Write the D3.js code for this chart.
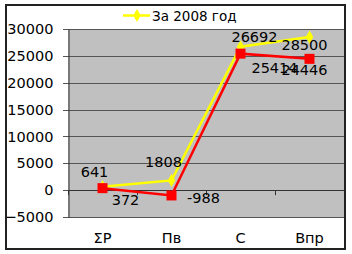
<!DOCTYPE html>
<html lang="ru">
<head>
<meta charset="utf-8">
<title>За 2008 год</title>
<script src="https://d3js.org/d3.v7.min.js"></script>
<style>
  body { margin: 0; background: #fff; }
  text { font-family: "DejaVu Sans", Verdana, sans-serif; font-size: 14.5px; fill: #000; }
</style>
</head>
<body>
<script>
// data
var categories = ["ΣР", "Пв", "С", "Впр"];
var yellowVals = [641, 1808, 26692, 28500];
var redVals = [372, -988, 25414, 24446];
var yTicks = [-5000, 0, 5000, 10000, 15000, 20000, 25000, 30000];
var legendLabel = "За 2008 год";

// label offsets (px) from each point, as placed in the original
var yellowLabelOff = [[-8, -10], [-8, -13], [14, -5], [-5, 13]];
var redLabelOff = [[23, 17], [32, 8], [34, 19], [-5, 16]];

var w = 352, h = 254;
var plotL = 68, plotR = 344, plotT = 29, plotB = 217;

var svg = d3.select("body").append("svg").attr("width", w).attr("height", h);

svg.append("rect").attr("x", 0).attr("y", 0).attr("width", w).attr("height", h).attr("fill", "white");

var x = d3.scaleBand().domain(categories).range([plotL, plotR]);
var y = d3.scaleLinear().domain([-5000, 30000]).range([plotB, plotT]);
var cx = function(d, i) { return x(categories[i]) + x.bandwidth() / 2; };

// plot area
svg.append("rect").attr("x", plotL).attr("y", plotT).attr("width", plotR - plotL).attr("height", plotB - plotT)
  .attr("fill", "#c0c0c0");

// gridlines
svg.append("g").selectAll("line").data(yTicks).enter().append("line")
  .attr("x1", plotL - 5).attr("x2", plotR)
  .attr("y1", function(d) { return Math.round(y(d)) + 0.5; }).attr("y2", function(d) { return Math.round(y(d)) + 0.5; })
  .attr("stroke", "#555").attr("stroke-width", 1);

// y axis
var yAxis = d3.axisLeft(y).tickValues(yTicks).tickSize(0).tickPadding(15).tickFormat(d3.format("d"));
var gy = svg.append("g").attr("transform", "translate(" + (plotL + 0.5) + ",0)").call(yAxis);
gy.select(".domain").attr("stroke", "#333");
gy.selectAll("text").style("font-family", "DejaVu Sans, Verdana, sans-serif").style("font-size", "14.5px").attr("fill", "#000");

// category axis at zero
var gx = svg.append("g");
gx.append("line").attr("x1", plotL).attr("x2", plotR).attr("y1", Math.round(y(0)) + 0.5).attr("y2", Math.round(y(0)) + 0.5)
  .attr("stroke", "#333");
gx.selectAll("line.tk").data(d3.range(categories.length + 1)).enter().append("line").attr("class", "tk")
  .attr("x1", function(d) { return plotL + d * x.bandwidth() + 0.5; })
  .attr("x2", function(d) { return plotL + d * x.bandwidth() + 0.5; })
  .attr("y1", y(0)).attr("y2", y(0) + 5).attr("stroke", "#333");
svg.append("g").selectAll("text").data(categories).enter().append("text")
  .attr("x", function(d) { return x(d) + x.bandwidth() / 2; })
  .attr("y", 243).attr("text-anchor", "middle").text(function(d) { return d; });

// series
var line = d3.line().x(cx).y(function(d) { return y(d); });

svg.append("path").datum(yellowVals).attr("d", line).attr("fill", "none")
  .attr("stroke", "#ffff00").attr("stroke-width", 2.5);
svg.append("g").selectAll("path").data(yellowVals).enter().append("path")
  .attr("d", d3.symbol().type(d3.symbolDiamond).size(50))
  .attr("transform", function(d, i) { return "translate(" + cx(d, i) + "," + y(d) + ")"; })
  .attr("fill", "#ffff00");

svg.append("path").datum(redVals).attr("d", line).attr("fill", "none")
  .attr("stroke", "#ff0000").attr("stroke-width", 2.5);
svg.append("g").selectAll("rect").data(redVals).enter().append("rect")
  .attr("x", function(d, i) { return cx(d, i) - 5; })
  .attr("y", function(d) { return y(d) - 5; })
  .attr("width", 10).attr("height", 10).attr("fill", "#ff0000");

// data labels
svg.append("g").selectAll("text").data(yellowVals).enter().append("text")
  .attr("x", function(d, i) { return cx(d, i) + yellowLabelOff[i][0]; })
  .attr("y", function(d, i) { return y(d) + yellowLabelOff[i][1]; })
  .attr("text-anchor", "middle").text(function(d) { return d; });
svg.append("g").selectAll("text").data(redVals).enter().append("text")
  .attr("x", function(d, i) { return cx(d, i) + redLabelOff[i][0]; })
  .attr("y", function(d, i) { return y(d) + redLabelOff[i][1]; })
  .attr("text-anchor", "middle").text(function(d) { return d; });

// legend
var lg = svg.append("g");
lg.append("line").attr("x1", 123).attr("x2", 150).attr("y1", 15.5).attr("y2", 15.5)
  .attr("stroke", "#ffff00").attr("stroke-width", 2.5);
lg.append("path").attr("d", d3.symbol().type(d3.symbolDiamond).size(50))
  .attr("transform", "translate(137,15.5)").attr("fill", "#ffff00");
lg.append("text").attr("x", 152).attr("y", 20.5).style("font-size", "13.5px").text(legendLabel);

// chart border
svg.append("rect").attr("x", 6).attr("y", 5).attr("width", 339).attr("height", 244)
  .attr("fill", "none").attr("stroke", "#222").attr("stroke-width", 2);
</script>
</body>
</html>
